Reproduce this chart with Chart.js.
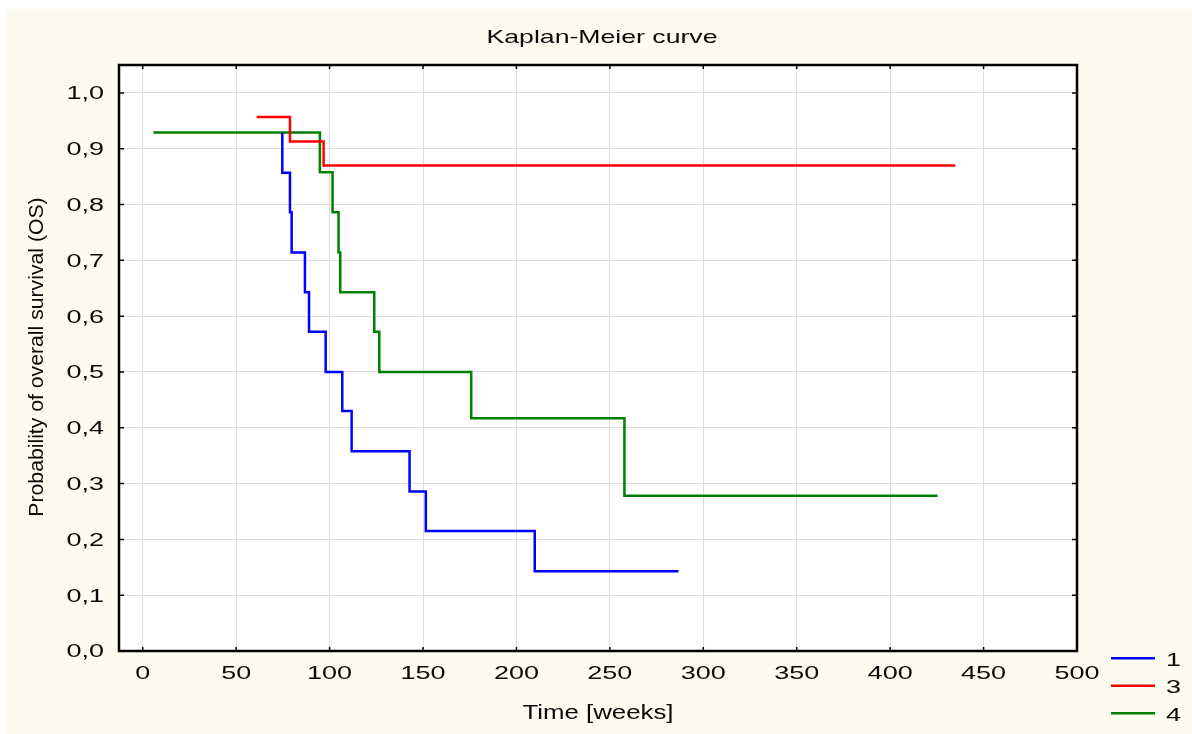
<!DOCTYPE html>
<html>
<head>
<meta charset="utf-8">
<script src="https://cdn.jsdelivr.net/npm/chart.js@4.4.1/dist/chart.umd.min.js"></script>
<style>
  html, body { margin: 0; padding: 0; background: #fff; }
  #wrap { width: 1192px; height: 734px; }
</style>
</head>
<body>
<div id="wrap"><canvas id="km" width="1192" height="734"></canvas></div>
<script>
// Kaplan-Meier, valores (semanas, probabilidade)
const tempos1 = [74.7, 74.7, 78.8, 79.7, 86.8, 89.0, 97.9, 106.8, 111.8, 142.8, 151.5, 209.8, 286.7]
const surv1   = [0.929, 0.857, 0.786, 0.714, 0.643, 0.572, 0.500, 0.430, 0.358, 0.286, 0.215, 0.143, 0.143]

const tempos3 = [61.0, 78.8, 96.8, 434.9]
const surv3   = [0.957, 0.913, 0.870, 0.870]

const tempos4 = [5.7, 94.8, 101.6, 104.8, 105.7, 123.9, 126.6, 175.8, 257.8, 425.4]
const surv4   = [0.929, 0.858, 0.786, 0.714, 0.643, 0.572, 0.500, 0.417, 0.278, 0.278]

const grupos = ['1', '3', '4']
const cores = ['#0000ff', '#ff0000', '#008000']

const xTicks = [0, 50, 100, 150, 200, 250, 300, 350, 400, 450, 500]
const xTickLabels = ['0', '50', '100', '150', '200', '250', '300', '350', '400', '450', '500']
const yTicks = [0, 0.1, 0.2, 0.3, 0.4, 0.5, 0.6, 0.7, 0.8, 0.9, 1.0]
const yTickLabels = ['0,0', '0,1', '0,2', '0,3', '0,4', '0,5', '0,6', '0,7', '0,8', '0,9', '1,0']

const titulo = 'Kaplan-Meier curve'
const tituloX = 'Time [weeks]'
const tituloY = 'Probability of overall survival (OS)'

const FONTE = '"Liberation Sans", Arial, sans-serif'

function pontos(ts, ss) {
  return ts.map((t, i) => ({ x: t, y: ss[i] }))
}

// texto com largura esticada (sx)
function txt(ctx, s, x, y, size, sx, align, rot) {
  ctx.save()
  ctx.translate(x, y)
  if (rot) ctx.rotate(rot)
  ctx.scale(sx, 1)
  ctx.font = size + 'px ' + FONTE
  ctx.textAlign = align
  ctx.textBaseline = 'alphabetic'
  ctx.fillStyle = '#0a0a0a'
  ctx.fillText(s, 0, 0)
  ctx.restore()
}

const molduraPlugin = {
  id: 'moldura',
  beforeDraw(chart) {
    const { ctx, chartArea: a } = chart
    ctx.save()
    ctx.fillStyle = '#ffffff'
    ctx.fillRect(0, 0, chart.width, chart.height)
    ctx.fillStyle = '#fdfaf0'
    ctx.fillRect(7, 9, chart.width - 7, chart.height - 9)
    ctx.fillStyle = '#ffffff'
    ctx.fillRect(a.left, a.top, a.right - a.left, a.bottom - a.top)
    ctx.restore()
  },
  afterDraw(chart) {
    const { ctx, chartArea: a, scales } = chart
    const sx = scales.x, sy = scales.y
    ctx.save()
    // moldura
    ctx.strokeStyle = '#000'
    ctx.lineWidth = 2.5
    ctx.strokeRect(a.left, a.top, a.right - a.left, a.bottom - a.top)
    // marcas internas
    ctx.lineWidth = 1.5
    ctx.beginPath()
    xTicks.forEach(v => {
      const px = sx.getPixelForValue(v)
      ctx.moveTo(px, a.bottom); ctx.lineTo(px, a.bottom - 4)
      ctx.moveTo(px, a.top); ctx.lineTo(px, a.top + 4)
    })
    yTicks.forEach(v => {
      const py = sy.getPixelForValue(v)
      ctx.moveTo(a.left, py); ctx.lineTo(a.left + 5, py)
      ctx.moveTo(a.right, py); ctx.lineTo(a.right - 5, py)
    })
    ctx.stroke()
    ctx.restore()

    // rótulos dos eixos
    xTicks.forEach((v, i) => {
      txt(ctx, xTickLabels[i], sx.getPixelForValue(v), a.bottom + 28, 18, 1.5, 'center')
    })
    yTicks.forEach((v, i) => {
      txt(ctx, yTickLabels[i], a.left - 15, sy.getPixelForValue(v) + 6.4, 18, 1.5, 'right')
    })

    // títulos
    txt(ctx, titulo, 602, 43.3, 18.5, 1.44, 'center')
    txt(ctx, tituloX, 598, 719.3, 20, 1.29, 'center')
    txt(ctx, tituloY, 43, 357, 20, 1.06, 'center', -Math.PI / 2)

    // legenda
    const legY = [658.3, 685.7, 713.3]
    chart.data.datasets.forEach((ds, i) => {
      ctx.save()
      ctx.strokeStyle = ds.borderColor
      ctx.lineWidth = 2.5
      ctx.beginPath()
      ctx.moveTo(1111, legY[i]); ctx.lineTo(1155, legY[i])
      ctx.stroke()
      ctx.restore()
      txt(ctx, ds.label, 1166, legY[i] + 7.7, 18, 1.5, 'left')
    })
  }
}

const series = [pontos(tempos1, surv1), pontos(tempos3, surv3), pontos(tempos4, surv4)]

new Chart(document.getElementById('km').getContext('2d'), {
  type: 'line',
  data: {
    datasets: grupos.map((g, i) => ({
      label: g,
      data: series[i],
      borderColor: cores[i],
      backgroundColor: 'transparent',
      borderWidth: 2.5,
      stepped: true,
      pointRadius: 0,
      fill: false
    }))
  },
  options: {
    responsive: false,
    animation: false,
    layout: { padding: { top: 65, right: 115, bottom: 0, left: 0 } },
    plugins: { legend: { display: false }, title: { display: false }, tooltip: { enabled: false } },
    scales: {
      x: {
        type: 'linear',
        min: -12.7,
        max: 500,
        afterBuildTicks: s => { s.ticks = xTicks.map(v => ({ value: v })) },
        afterFit: s => { s.height = 83 },
        ticks: { display: false },
        border: { display: false },
        grid: { color: '#dddddd', lineWidth: 1, drawTicks: false }
      },
      y: {
        type: 'linear',
        min: 0,
        max: 1.05,
        afterBuildTicks: s => { s.ticks = yTicks.map(v => ({ value: v })) },
        afterFit: s => { s.width = 119 },
        ticks: { display: false },
        border: { display: false },
        grid: { color: '#dddddd', lineWidth: 1, drawTicks: false }
      }
    }
  },
  plugins: [molduraPlugin]
})
</script>
</body>
</html>
